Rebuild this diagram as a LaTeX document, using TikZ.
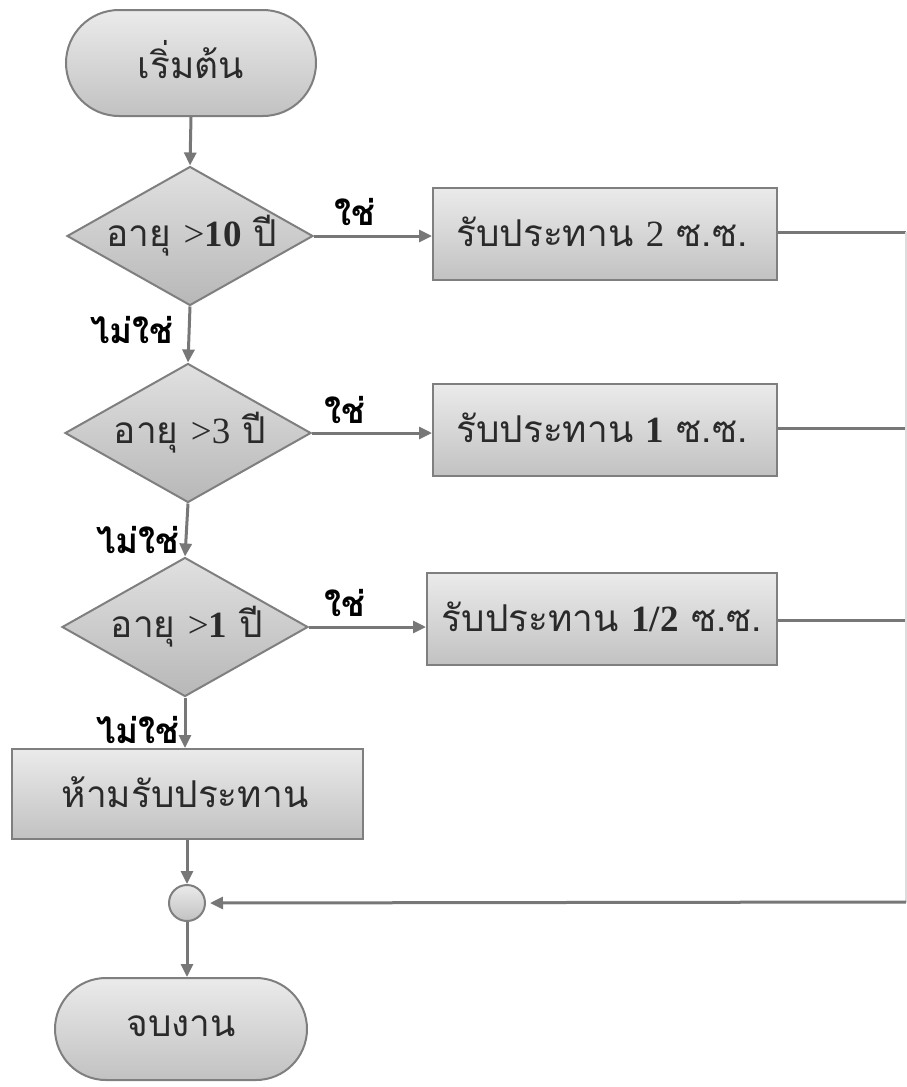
\documentclass[tikz,border=0pt]{standalone}
\usepackage{fontspec}
\newfontfamily\thai[Script=Thai]{Loma}
\newfontfamily\lat{Liberation Serif}
\usetikzlibrary{shapes.geometric,shapes.misc,arrows.meta}
\definecolor{edge}{HTML}{7F7F7F}
\definecolor{ln}{HTML}{777777}
\definecolor{tx}{HTML}{2A2A2A}
\begin{document}
\begin{tikzpicture}[x=1pt,y=-1pt,
  shaded/.style={draw=edge,line width=2pt,top color=white!92!black,bottom color=white!76!black},
  term/.style={shaded,rounded rectangle,minimum width=250pt,minimum height=106pt,inner sep=0pt},
  box/.style={shaded,rectangle,minimum height=92pt,inner sep=0pt},
  dec/.style={draw=edge,line width=2pt,top color=white!88!black,bottom color=white!72!black,diamond,minimum width=246pt,minimum height=139pt,inner sep=0pt},
  merge/.style={shaded,circle,minimum size=36pt,inner sep=0pt},
  txt/.style={font=\thai\fontsize{37}{44}\selectfont,text=tx,inner sep=0pt},
  lab/.style={font=\thai\bfseries\fontsize{35}{42}\selectfont,text=black,inner sep=0pt},
  conn/.style={draw=ln,line width=3pt},
  arr/.style={conn,-{Triangle[length=13pt,width=12pt]}},
  ret/.style={draw=ln!25,line width=1.5pt}]
\useasboundingbox (0,0) rectangle (907,1087);

\node[term] (start) at (191,63) {};
\node[txt] (tstart) at (191,60) {เริ่มต้น};

\node[dec] (d1) at (190,236) {};
\node[txt] (td1) at (192,236) {อายุ {\lat >}{\lat\bfseries 10} ปี};
\node[dec] (d2) at (188,433) {};
\node[txt] (td2) at (190,433) {อายุ {\lat >3} ปี};
\node[dec] (d3) at (185,627) {};
\node[txt] (td3) at (187,627) {อายุ {\lat >}{\lat\bfseries 1} ปี};

\node[box,minimum width=344pt] (b1) at (605,234) {};
\node[txt] (tb1) at (602,232) {รับประทาน {\lat 2} ซ.ซ.};
\node[box,minimum width=344pt] (b2) at (605,430) {};
\node[txt] (tb2) at (602,428) {รับประทาน {\lat\bfseries 1} ซ.ซ.};
\node[box,minimum width=350pt] (b3) at (602,619) {};
\node[txt] (tb3) at (602,617) {รับประทาน {\lat\bfseries 1/2} ซ.ซ.};

\node[box,minimum width=351pt,minimum height=90pt] (b4) at (187,794) {};
\node[txt] (tb4) at (185,792) {ห้ามรับประทาน};

\node[merge] (m) at (187,903) {};
\node[term,minimum width=252pt,minimum height=102pt] (end) at (181,1029) {};
\node[txt] (tend) at (181,1026) {จบงาน};

\node[lab] (y1) at (355,212) {ใช่};
\node[lab] (y2) at (345,410) {ใช่};
\node[lab] (y3) at (345,603) {ใช่};
\node[lab] (n1) at (132,330) {ไม่ใช่};
\node[lab] (n2) at (138,540) {ไม่ใช่};
\node[lab] (n3) at (138,730) {ไม่ใช่};

\coordinate (r1) at (906,232);
\coordinate (r2) at (906,428);
\coordinate (r3) at (906,620);
\coordinate (r4) at (906,902);

\draw[arr] (start.south) -- (d1.north);
\draw[arr] (d1.east) -- (b1.west |- d1.east);
\draw[arr] (d1.south) -- (d2.north);
\draw[arr] (d2.east) -- (b2.west |- d2.east);
\draw[arr] (d2.south) -- (d3.north);
\draw[arr] (d3.east) -- (b3.west |- d3.east);
\draw[arr] (d3.south) -- (b4.north -| d3.south);
\draw[arr] (b4.south) -- (m.north);
\draw[arr] (m.south) -- (end.north -| m.south);
\draw[conn] (b1.east |- r1) -- (r1);
\draw[conn] (b2.east |- r2) -- (r2);
\draw[conn] (b3.east |- r3) -- (r3);
\draw[ret] (r1) -- (r4);
\draw[arr] (r4) -- ([xshift=4pt]m.east);
\end{tikzpicture}
\end{document}
